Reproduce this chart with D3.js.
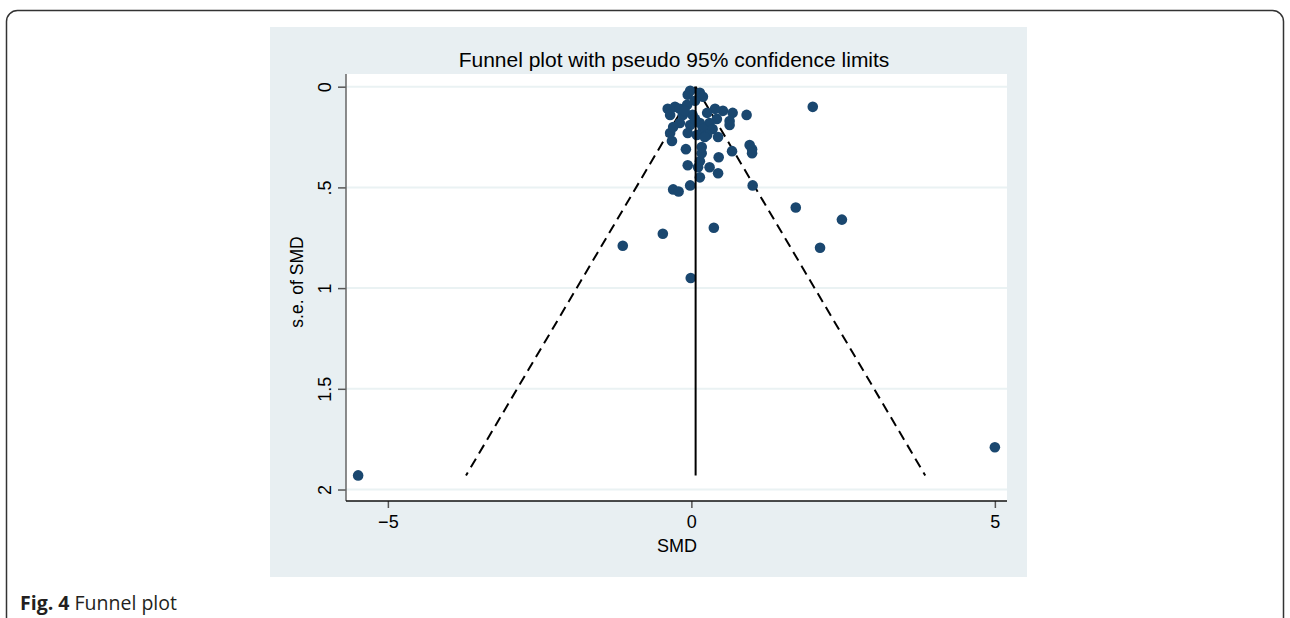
<!DOCTYPE html>
<html>
<head>
<meta charset="utf-8">
<script src="https://cdn.jsdelivr.net/npm/d3@7"></script>
<style>
  body { margin: 0; background: #fff; }
  svg text { font-family: "Liberation Sans", Arial, sans-serif; }
</style>
</head>
<body>
<svg id="chart" width="1290" height="618"></svg>
<script>
// study effect sizes (SMD) and their standard errors
var smd = [-5.49, 5.00, 2.00, 1.72, 2.48, 2.12, -1.13, -0.47, 0.37, -0.01,
  1.01, 0.96, 1.00, 1.00, 0.91, 0.68, 0.52, 0.39, 0.63, 0.63,
  0.67, 0.45, 0.44, 0.44, 0.30, 0.14, -0.02, -0.30, -0.21, -0.06,
  0.14, 0.11, 0.17, 0.17, -0.09, -0.32, -0.35, -0.39, -0.27, -0.19,
  -0.07, -0.35, -0.14, 0.02, 0.26, 0.42, 0.30, 0.14, -0.02, -0.19,
  -0.30, 0.19, 0.35, 0.09, 0.26, 0.22, -0.02, 0.14, 0.19, -0.06,
  0.06, -0.11, 0.06, -0.06];
var se = [1.93, 1.79, 0.10, 0.60, 0.66, 0.80, 0.79, 0.73, 0.70, 0.95,
  0.49, 0.29, 0.31, 0.33, 0.14, 0.13, 0.12, 0.11, 0.17, 0.19,
  0.32, 0.35, 0.25, 0.43, 0.40, 0.45, 0.49, 0.51, 0.52, 0.39,
  0.37, 0.40, 0.33, 0.30, 0.31, 0.27, 0.23, 0.11, 0.10, 0.11,
  0.09, 0.14, 0.14, 0.14, 0.13, 0.16, 0.18, 0.18, 0.19, 0.18,
  0.20, 0.21, 0.21, 0.24, 0.24, 0.25, 0.02, 0.03, 0.05, 0.04,
  0.07, 0.12, 0.16, 0.23];
var pooled = 0.07;
var maxSe = 1.93;
var xTicks = [-5, 0, 5];
var yTicks = [0, 0.5, 1, 1.5, 2];
var yTickLabels = ["0", ".5", "1", "1.5", "2"];

var data = smd.map(function (d, i) { return { smd: d, se: se[i] }; });

var svg = d3.select("#chart");

// outer figure frame
svg.append("rect")
  .attr("x", 6.5).attr("y", 10.5)
  .attr("width", 1277).attr("height", 640)
  .attr("rx", 11)
  .attr("fill", "none")
  .attr("stroke", "#333")
  .attr("stroke-width", 1.5);

// graph region background
svg.append("rect")
  .attr("x", 270).attr("y", 27)
  .attr("width", 757).attr("height", 550)
  .attr("fill", "#e8eff2");

var plot = { left: 346, right: 1007, top: 74, bottom: 501 };

svg.append("rect")
  .attr("x", plot.left).attr("y", plot.top)
  .attr("width", plot.right - plot.left).attr("height", plot.bottom - plot.top)
  .attr("fill", "#fff");

var x = d3.scaleLinear().domain([-5.69, 5.2]).range([plot.left, plot.right]);
var y = d3.scaleLinear().domain([-0.063, 2.057]).range([plot.top, plot.bottom]);

// gridlines
svg.append("g").selectAll("line")
  .data(yTicks)
  .enter().append("line")
  .attr("x1", plot.left).attr("x2", plot.right)
  .attr("y1", function (d) { return y(d); })
  .attr("y2", function (d) { return y(d); })
  .attr("stroke", "#eaf2f3")
  .attr("stroke-width", 2);

// y axis
var leftAxis = d3.axisLeft(y).tickValues(yTicks)
  .tickFormat(function (d, i) { return yTickLabels[i]; })
  .tickSize(8);
var yAxis = svg.append("g")
  .attr("transform", "translate(" + plot.left + ",0)")
  .call(leftAxis);
yAxis.select(".domain").remove();
yAxis.append("line")
  .attr("x1", 0).attr("x2", 0)
  .attr("y1", plot.top).attr("y2", plot.bottom)
  .attr("stroke", "#666").attr("stroke-width", 1.5);
yAxis.selectAll(".tick line").attr("stroke", "#555").attr("stroke-width", 1.5);
yAxis.selectAll(".tick text")
  .attr("font-size", 18)
  .attr("fill", "#000")
  .attr("text-anchor", "middle")
  .attr("x", null).attr("y", null).attr("dy", null)
  .attr("transform", "translate(-15,0) rotate(-90)");

// x axis
var bottomAxis = d3.axisBottom(x).tickValues(xTicks).tickSize(7).tickPadding(7);
var xAxis = svg.append("g")
  .attr("transform", "translate(0," + plot.bottom + ")")
  .call(bottomAxis);
xAxis.select(".domain").remove();
xAxis.append("line")
  .attr("x1", plot.left).attr("x2", plot.right)
  .attr("y1", 0).attr("y2", 0)
  .attr("stroke", "#111").attr("stroke-width", 1.5);
xAxis.selectAll(".tick line").attr("stroke", "#555").attr("stroke-width", 1.5);
xAxis.selectAll(".tick text").attr("font-size", 18).attr("fill", "#000");

// axis titles
svg.append("text")
  .attr("x", 677)
  .attr("y", 552)
  .attr("text-anchor", "middle")
  .attr("font-size", 18)
  .text("SMD");

svg.append("text")
  .attr("transform", "translate(303," + 282 + ") rotate(-90)")
  .attr("text-anchor", "middle")
  .attr("font-size", 17.5)
  .text("s.e. of SMD");

svg.append("text")
  .attr("x", 674)
  .attr("y", 67)
  .attr("text-anchor", "middle")
  .attr("font-size", 21)
  .text("Funnel plot with pseudo 95% confidence limits");

// pseudo 95% limits
var lower = [{ smd: pooled, se: 0 }, { smd: pooled - 1.96 * maxSe, se: maxSe }];
var upper = [{ smd: pooled, se: 0 }, { smd: pooled + 1.96 * maxSe, se: maxSe }];
var line = d3.line()
  .x(function (d) { return x(d.smd); })
  .y(function (d) { return y(d.se); });

[lower, upper].forEach(function (seg) {
  svg.append("path")
    .attr("d", line(seg))
    .attr("fill", "none")
    .attr("stroke", "#000")
    .attr("stroke-width", 2)
    .attr("stroke-dasharray", "10,6");
});

// points
svg.append("g").selectAll("circle")
  .data(data)
  .enter().append("circle")
  .attr("cx", function (d) { return x(d.smd); })
  .attr("cy", function (d) { return y(d.se); })
  .attr("r", 5.3)
  .attr("fill", "#1a476f");

// pooled estimate line
svg.append("path")
  .attr("d", line([{ smd: pooled, se: 0 }, { smd: pooled, se: maxSe }]))
  .attr("stroke", "#000")
  .attr("stroke-width", 2);

// caption
var cap = svg.append("text")
  .attr("x", 20).attr("y", 610)
  .attr("font-size", 19.5)
  .attr("fill", "#231f20")
  .style("font-family", "'Open Sans', 'Noto Sans', sans-serif");
cap.append("tspan").attr("font-weight", "bold").text("Fig. 4");
cap.append("tspan").text(" Funnel plot");
</script>
</body>
</html>
